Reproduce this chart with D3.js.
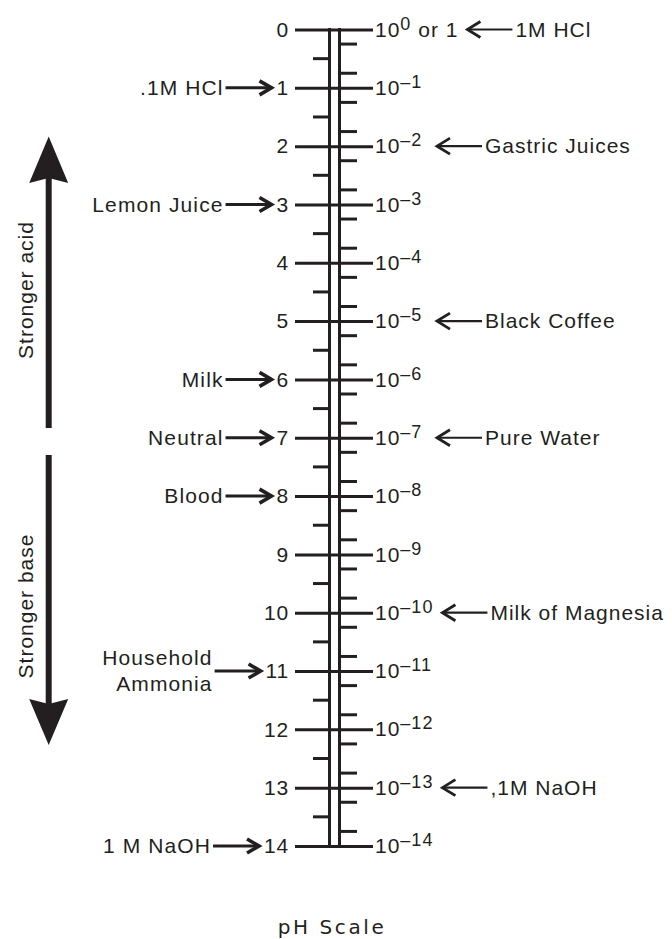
<!DOCTYPE html>
<html>
<head>
<meta charset="utf-8">
<script src="https://cdn.jsdelivr.net/npm/d3@7"></script>
<style>
  body { margin: 0; background: #fff; }
  text { font-family: "Liberation Sans", Arial, sans-serif; fill: #231f20; }
</style>
</head>
<body>
<svg id="chart" width="672" height="939"></svg>
<script>
// pH scale data
const phTicks = [0, 1, 2, 3, 4, 5, 6, 7, 8, 9, 10, 11, 12, 13, 14];
const exponents = ["0", "–1", "–2", "–3", "–4", "–5", "–6", "–7", "–8", "–9", "–10", "–11", "–12", "–13", "–14"];
const leftMinorOffsets = [0.5];
const rightMinorOffsets = [0.25, 0.75];

const leftLabels = [
  { ph: 1, lines: [".1M HCl"] },
  { ph: 3, lines: ["Lemon Juice"] },
  { ph: 6, lines: ["Milk"] },
  { ph: 7, lines: ["Neutral"] },
  { ph: 8, lines: ["Blood"] },
  { ph: 11, lines: ["Household", "Ammonia"] },
  { ph: 14, lines: ["1 M NaOH"] }
];
const rightLabels = [
  { ph: 0, text: "1M HCl" },
  { ph: 2, text: "Gastric Juices" },
  { ph: 5, text: "Black Coffee" },
  { ph: 7, text: "Pure Water" },
  { ph: 10, text: "Milk of Magnesia" },
  { ph: 13, text: ",1M NaOH" }
];
const sideLabels = ["Stronger acid", "Stronger base"];
const title = "pH Scale";

const ink = '#231f20';
const svg = d3.select('#chart');

const y = d3.scaleLinear().domain([0, 14]).range([29.5, 846]);
const leftBar = 329.5, rightBar = 339.5;
const tickLeft = 295, tickRight = 373;

// double bar
svg.selectAll('.bar').data([leftBar, rightBar])
  .enter().append('line')
  .attr('x1', d => d).attr('x2', d => d)
  .attr('y1', y(0) - 1.5).attr('y2', y(14) + 1.5)
  .attr('stroke', ink).attr('stroke-width', 3);

// minor ticks
const intervals = phTicks.slice(0, -1);
svg.selectAll('.minorL').data(intervals.flatMap(p => leftMinorOffsets.map(o => p + o)))
  .enter().append('line')
  .attr('x1', 313).attr('x2', leftBar)
  .attr('y1', d => y(d)).attr('y2', d => y(d))
  .attr('stroke', ink).attr('stroke-width', 3);
svg.selectAll('.minorR').data(intervals.flatMap(p => rightMinorOffsets.map(o => p + o)))
  .enter().append('line')
  .attr('x1', rightBar).attr('x2', 357)
  .attr('y1', d => y(d)).attr('y2', d => y(d))
  .attr('stroke', ink).attr('stroke-width', 3);

// major ticks + pH numbers
const phAxis = d3.axisLeft(y)
  .tickValues(phTicks)
  .tickSize(tickRight - tickLeft)
  .tickPadding(6)
  .tickFormat(d3.format('d'));
const axisG = svg.append('g')
  .attr('transform', `translate(${tickRight},0)`)
  .call(phAxis)
  .attr('font-size', 21)
  .attr('font-family', '"Liberation Sans", Arial, sans-serif');
axisG.select('.domain').remove();
axisG.selectAll('.tick line').attr('stroke', ink).attr('stroke-width', 3);
axisG.selectAll('.tick text')
  .attr('fill', ink)
  .attr('font-size', 21)
  .style('letter-spacing', '0.8px');

// concentration labels
const conc = svg.selectAll('.conc').data(phTicks)
  .enter().append('text')
  .attr('x', tickRight + 2)
  .attr('y', d => y(d))
  .attr('dy', '0.34em')
  .attr('font-size', 21)
  .style('letter-spacing', '1px');
conc.append('tspan').text('10');
conc.append('tspan')
  .attr('font-size', 18)
  .attr('dy', -7)
  .text((d, i) => exponents[i]);
conc.filter(d => d === 0).append('tspan')
  .attr('dy', 7)
  .text(' or 1');

function arrow(g, x1, x2, yy, head, half, w) {
  const dir = Math.sign(x2 - x1);
  g.append('line')
    .attr('x1', x1).attr('x2', x2 - dir * 1)
    .attr('y1', yy).attr('y2', yy)
    .attr('stroke', ink).attr('stroke-width', w);
  g.append('path')
    .attr('d', `M${x2 - dir * head},${yy - half}L${x2},${yy}L${x2 - dir * head},${yy + half}`)
    .attr('fill', 'none').attr('stroke', ink).attr('stroke-width', w + 0.6)
    .attr('stroke-linejoin', 'miter');
}

// left labels with arrows
const numberEnd = {};
axisG.selectAll('.tick').each(function(d) {
  const t = d3.select(this).select('text').node();
  numberEnd[d] = tickRight - (tickRight - tickLeft) - 6 - t.getComputedTextLength();
});
leftLabels.forEach(d => {
  const g = svg.append('g');
  const tip = numberEnd[d.ph] - 5;
  const tail = tip - 46;
  arrow(g, tail, tip, y(d.ph), 12, 7, 3);
  const n = d.lines.length;
  d.lines.forEach((line, i) => {
    g.append('text')
      .attr('x', tail - 2)
      .attr('y', y(d.ph) + (i - (n - 1) / 2) * 26)
      .attr('dy', '0.34em')
      .attr('text-anchor', 'end')
      .attr('font-size', 21)
      .style('letter-spacing', '1.1px')
      .text(line);
  });
});

// right labels with arrows
const concEnd = {};
conc.each(function(d) { concEnd[d] = this.getBBox().x + this.getBBox().width; });
rightLabels.forEach(d => {
  const g = svg.append('g');
  const tip = Math.max(437, concEnd[d.ph] + 9);
  const tail = tip + 45;
  arrow(g, tail, tip, y(d.ph), 13, 8, 2.2);
  g.append('text')
    .attr('x', tail + 3)
    .attr('y', y(d.ph))
    .attr('dy', '0.34em')
    .attr('font-size', 21)
    .style('letter-spacing', '1px')
    .text(d.text);
});

// stronger acid / base arrows
const ax = 48.7;
svg.append('line')
  .attr('x1', ax).attr('x2', ax).attr('y1', 176).attr('y2', 428)
  .attr('stroke', ink).attr('stroke-width', 6);
svg.append('path')
  .attr('d', `M${ax},136.5L${ax + 19.5},183L${ax},178L${ax - 19.5},183Z`)
  .attr('fill', ink);
svg.append('line')
  .attr('x1', ax).attr('x2', ax).attr('y1', 455).attr('y2', 705)
  .attr('stroke', ink).attr('stroke-width', 6);
svg.append('path')
  .attr('d', `M${ax},745L${ax + 19.5},699L${ax},704L${ax - 19.5},699Z`)
  .attr('fill', ink);

svg.selectAll('.side').data(sideLabels)
  .enter().append('text')
  .attr('transform', (d, i) => `translate(32.5,${i === 0 ? 290 : 606}) rotate(-90)`)
  .attr('text-anchor', 'middle')
  .attr('font-size', 21)
  .style('letter-spacing', '1px')
  .text(d => d);

// title
svg.append('text')
  .attr('x', 332)
  .attr('y', 934)
  .attr('text-anchor', 'middle')
  .attr('font-size', 20)
  .style('font-family', '"DejaVu Sans", sans-serif')
  .style('letter-spacing', '2.6px')
  .text(title);
</script>
</body>
</html>
